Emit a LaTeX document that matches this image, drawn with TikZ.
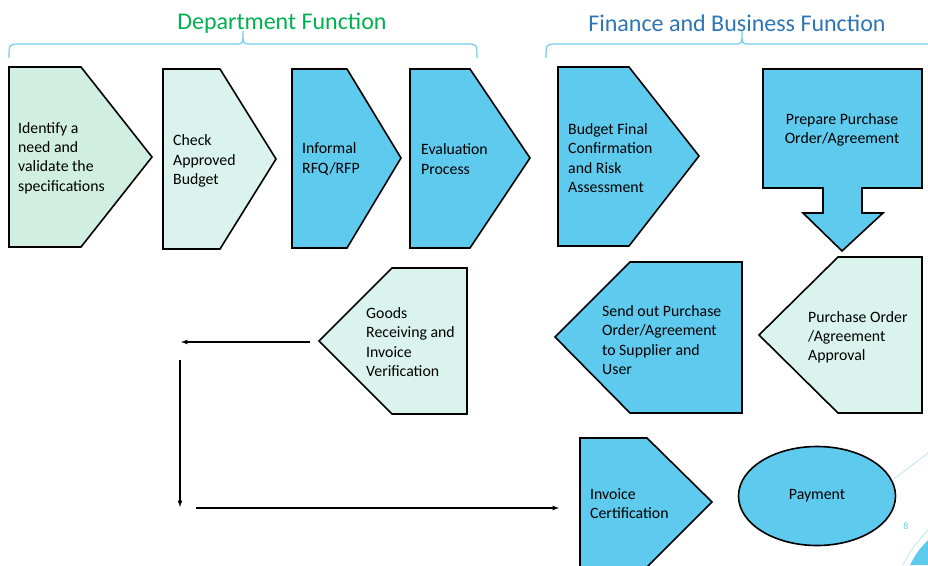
\documentclass[tikz,border=0pt]{standalone}
\usepackage{fontspec}
\setmainfont{Carlito}
\usetikzlibrary{positioning}
\usetikzlibrary{arrows}
\usetikzlibrary{shapes.geometric}
\definecolor{paleteal}{RGB}{208,238,226}
\definecolor{paleaqua}{RGB}{218,243,236}
\definecolor{skyblue}{RGB}{94,202,238}
\definecolor{bracecol}{RGB}{110,205,238}
\definecolor{deptgreen}{RGB}{0,176,80}
\definecolor{finblue}{RGB}{46,117,182}
\tikzset {
  % process step outlines
  stage/.style={draw=black, line width=1.6pt, line join=miter},
  palestage/.style={stage, fill=paleaqua},
  bluestage/.style={stage, fill=skyblue},
  % texts inside the steps
  txt/.style={align=left, inner sep=0pt, font=\fontsize{15.8}{19.2}\selectfont},
  heading/.style={inner sep=0pt, font=\fontsize{24}{28}\selectfont},
  % group braces
  grp/.style={draw=bracecol, line width=1.2pt},
  flow/.style={-latex, line width=1.2pt},
}

\begin{document}
\begin{tikzpicture}[x=1pt, y=-1pt]
  \useasboundingbox (0,0) rectangle (928,565);

  % headings and braces
  \node[heading, text=deptgreen] (dept) at (282,23) {Department Function};
  \node[heading, text=finblue] (fin) at (737,23) {Finance and Business Function};
  \draw[grp] (9,58) .. controls (9,44) .. (20,44) -- (236,44)
    .. controls (243,44) .. (243,31) .. controls (243,44) .. (250,44)
    -- (466,44) .. controls (477,44) .. (477,58);
  \draw[grp] (546,58) .. controls (546,44) .. (557,44) -- (735,44)
    .. controls (742,44) .. (742,31) .. controls (742,44) .. (749,44)
    -- (928,44);

  % top row
  \draw[stage, fill=paleteal] (9,67) -- (81,67) -- (152,157) -- (81,247) -- (9,247) -- cycle;
  \node[txt, anchor=west] (need) at (18,158) {Identify a\\need and\\validate the\\specifications};

  \draw[palestage] (163,69) -- (220,69) -- (276,159) -- (220,249) -- (163,249) -- cycle;
  \node[txt, anchor=west] (check) at (173,161) {Check\\Approved\\Budget};

  \draw[bluestage] (292,69) -- (347,69) -- (401,158) -- (347,248) -- (292,248) -- cycle;
  \node[txt, anchor=west] (rfq) at (302,159) {Informal\\RFQ/RFP};

  \draw[bluestage] (410,69) -- (470,69) -- (530,158) -- (470,248) -- (410,248) -- cycle;
  \node[txt, anchor=west] (eval) at (421,159) {Evaluation\\Process};

  \draw[bluestage] (558,67) -- (629,67) -- (699,156) -- (629,246) -- (558,246) -- cycle;
  \node[txt, anchor=west] (risk) at (568,158) {Budget Final\\Confirmation\\and Risk\\Assessment};

  \draw[bluestage] (763,69) -- (922,69) -- (922,188) -- (862,188) -- (862,213) -- (883,213)
    -- (842,251) -- (803,213) -- (823,213) -- (823,188) -- (763,188) -- cycle;
  \node[txt, align=center] (prep) at (842,130) {Prepare Purchase\\Order/Agreement};

  % middle row
  \draw[palestage] (922,257) -- (922,413) -- (838,413) -- (759,335) -- (838,257) -- cycle;
  \node[txt, anchor=west] (appr) at (808,337) {Purchase Order\\/Agreement\\Approval};

  \draw[bluestage] (742,262) -- (742,413) -- (630,413) -- (555,337) -- (630,262) -- cycle;
  \node[txt, anchor=west] (send) at (602,340) {Send out Purchase\\Order/Agreement\\to Supplier and\\User};

  \draw[palestage] (467,268) -- (467,414) -- (392,414) -- (319,341) -- (392,268) -- cycle;
  \node[txt, anchor=west] (goods) at (366,342) {Goods\\Receiving and\\Invoice\\Verification};

  % bottom row
  \draw[bluestage] (580,438) -- (647,438) -- (712,502) -- (647,567) -- (580,567) -- cycle;
  \node[txt, anchor=west] (cert) at (590,504) {Invoice\\Certification};

  \node[ellipse, bluestage, minimum width=157pt, minimum height=99pt,
        font=\fontsize{15.8}{19.2}\selectfont] (pay) at (817,496) {Payment};

  % loose flow arrows
  \coordinate (a1) at (310,342);
  \coordinate (a2) at (181,342);
  \coordinate (b1) at (180,360);
  \coordinate (b2) at (180,507);
  \coordinate (c1) at (196,508);
  \coordinate (c2) at (559,508);
  \draw[flow] (a1) -- (a2);
  \draw[flow] (b1) -- (b2);
  \draw[flow] (c1) -- (c2);

  % slide corner
  \draw[bracecol!60, line width=0.6pt] (894,479) -- (928,453);
  \draw[bracecol!60, line width=0.6pt] (903,565) .. controls (912,548) .. (928,530);
  \fill[skyblue] (910,565) .. controls (917,552) .. (928,540) -- (928,565) -- cycle;
  \node[text=bracecol, font=\fontsize{10}{12}\selectfont] (pgno) at (906,526) {8};
\end{tikzpicture}
\end{document}
